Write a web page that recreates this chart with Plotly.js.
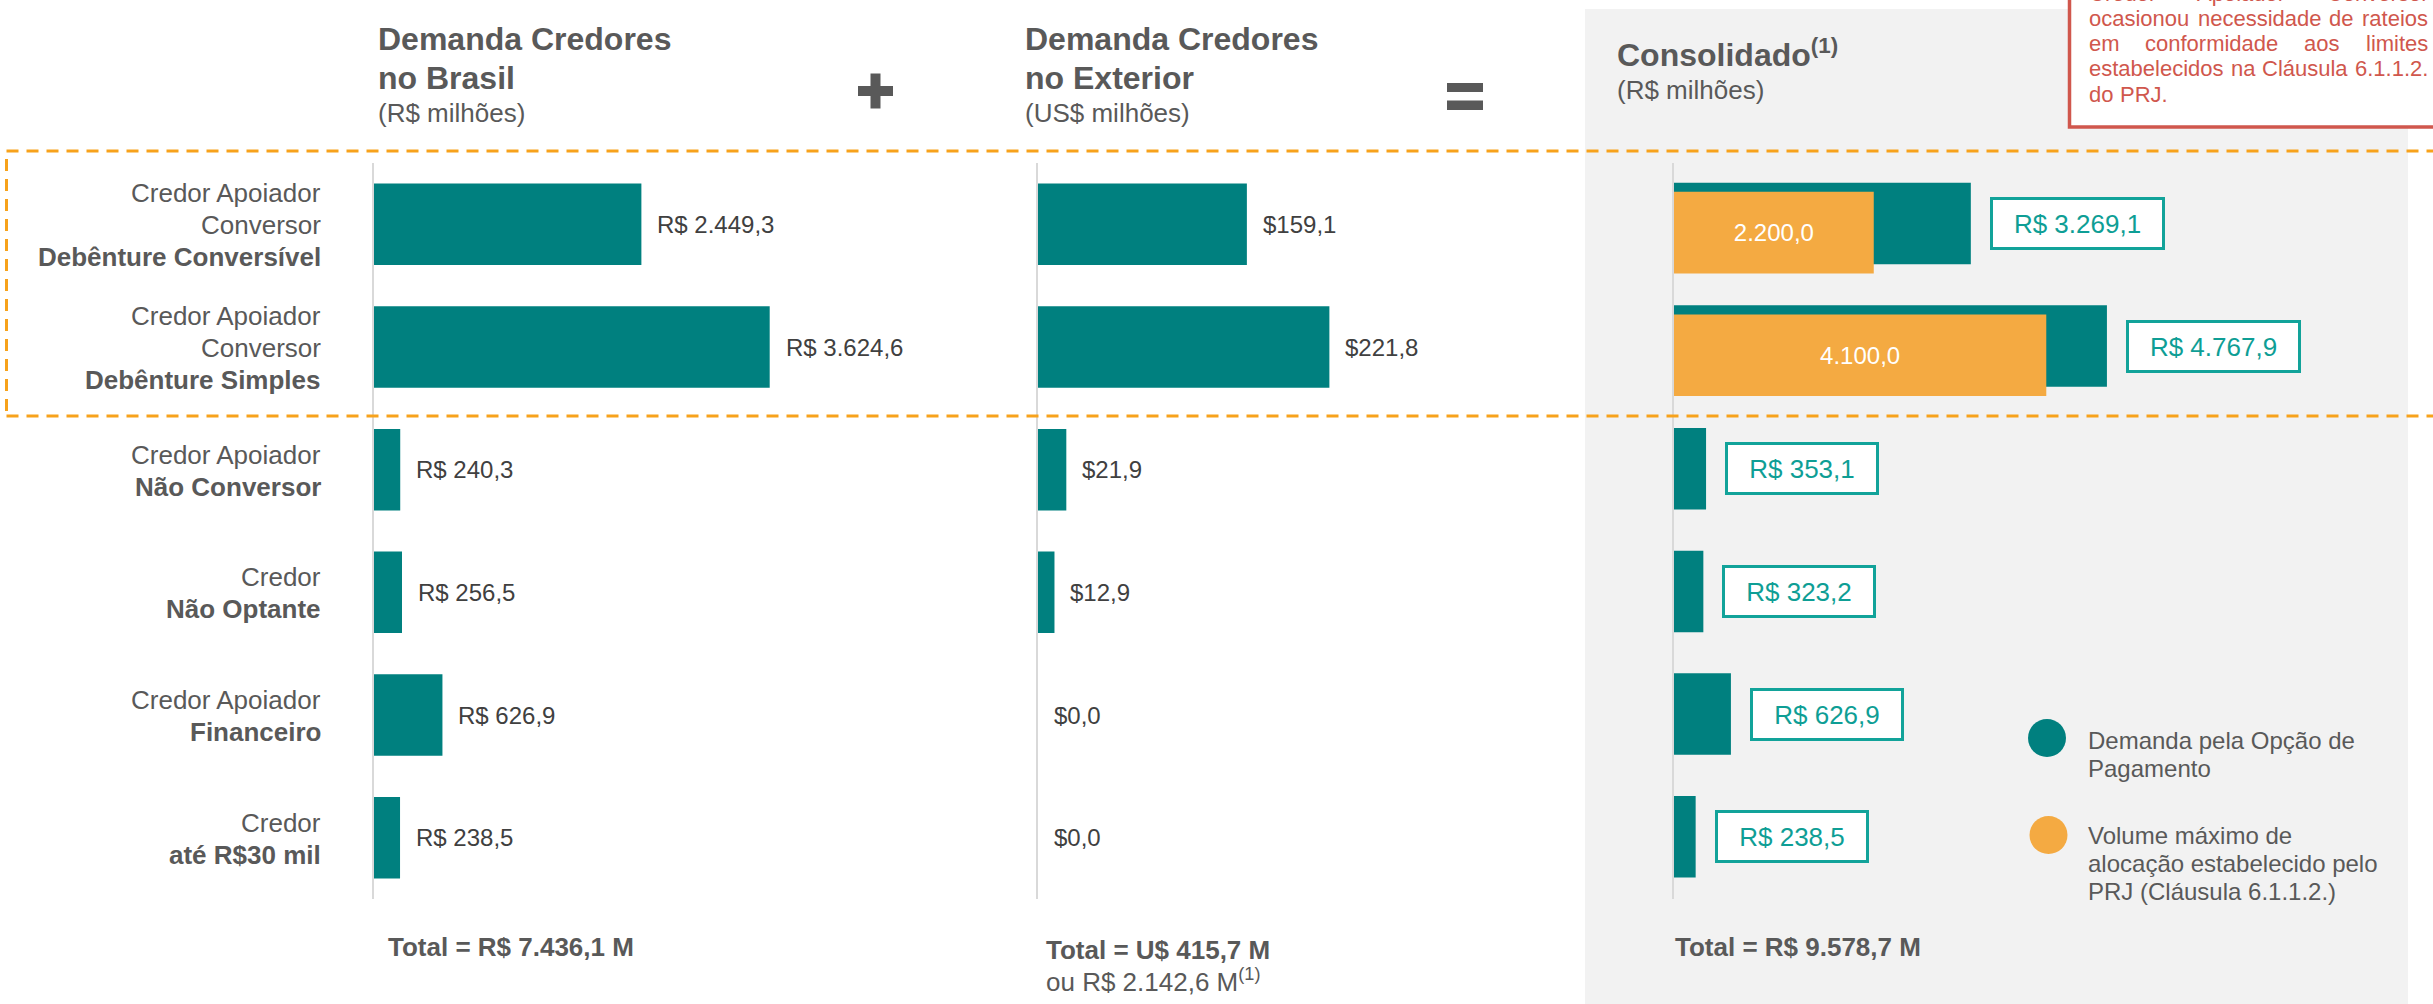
<!DOCTYPE html>
<html><head><meta charset="utf-8">
<script src="https://cdn.plot.ly/plotly-3.0.1.min.js"></script>
<style>html,body{margin:0;padding:0;background:#fff;}#chart{width:2433px;height:1004px;}</style>
</head><body><div id="chart"></div>
<script>
// ---------------- data ----------------
const categories = ['Debênture Conversível', 'Debênture Simples', 'Não Conversor', 'Não Optante', 'Financeiro', 'até R$30 mil'];
const categoryLabels = [
  ['Credor Apoiador', 'Conversor', '<b>Debênture Conversível</b>'],
  ['Credor Apoiador', 'Conversor', '<b>Debênture Simples</b>'],
  ['Credor Apoiador', '<b>Não Conversor</b>'],
  ['Credor', '<b>Não Optante</b>'],
  ['Credor Apoiador', '<b>Financeiro</b>'],
  ['Credor', '<b>até R$30 mil</b>']
];
const brasilValues = [2449.3, 3624.6, 240.3, 256.5, 626.9, 238.5];
const exteriorValues = [159.1, 221.8, 21.9, 12.9, 0.0, 0.0];
const consolidadoValues = [3269.1, 4767.9, 353.1, 323.2, 626.9, 238.5];
const limiteCategories = ['Debênture Conversível', 'Debênture Simples'];
const limiteValues = [2200.0, 4100.0];

const panelTitles = [
  ['<b>Demanda Credores</b>', '<b>no Brasil</b>', '(R$ milhões)'],
  ['<b>Demanda Credores</b>', '<b>no Exterior</b>', '(US$ milhões)'],
  ['<b>Consolidado<sup>(1)</sup></b>', '(R$ milhões)']
];
const totalsText = ['<b>Total = R$ 7.436,1 M</b>', '<b>Total = U$ 415,7 M</b>', 'ou R$ 2.142,6 M<sup>(1)</sup>', '<b>Total = R$ 9.578,7 M</b>'];
const legendTeal = ['Demanda pela Opção de', 'Pagamento'];
const legendOrange = ['Volume máximo de', 'alocação estabelecido pelo', 'PRJ (Cláusula 6.1.1.2.)'];
const noteLines = [
  ['Credor', 'Apoiador', 'Conversor'],
  ['ocasionou', 'necessidade', 'de', 'rateios'],
  ['em', 'conformidade', 'aos', 'limites'],
  ['estabelecidos', 'na', 'Cláusula', '6.1.1.2.'],
  ['do', 'PRJ.']
];

// ---------------- style ----------------
const W = 2433, H = 1004;
const FONT = 'Liberation Sans, Arial, sans-serif';
const TEAL = '#00807F', ORANGE = '#F4AA42', TXT = '#595959', VAL = '#404040';
const BOXC = '#12A39A', BOXT = '#0E9E95', RED = '#D0574D', DASH = '#F7A21B';
const px = x => x / W, py = y => 1 - y / H;

const cv = document.createElement('canvas').getContext('2d');
function measure(t, size, bold) {
  cv.font = (bold ? 'bold ' : '') + size + 'px "Liberation Sans", Arial, sans-serif';
  return cv.measureText(t).width;
}
function fmt(v) {
  let [i, d] = v.toFixed(1).split('.');
  i = i.replace(/\B(?=(\d{3})+(?!\d))/g, '.');
  return i + ',' + d;
}

const ann = [];
function line(text, x, baseline, size, color, xanchor) {
  ann.push({text, xref: 'paper', yref: 'paper', x: px(x), y: py(baseline + 0.212 * size),
    xanchor: xanchor || 'left', yanchor: 'bottom', showarrow: false, borderpad: 0,
    font: {family: FONT, size, color: color || TXT}});
}

// titles
line(panelTitles[0][0], 377, 51, 32); line(panelTitles[0][1], 377, 90, 32); line(panelTitles[0][2], 377, 123, 26);
line(panelTitles[1][0], 1024, 51, 32); line(panelTitles[1][1], 1024, 90.5, 32); line(panelTitles[1][2], 1024, 123, 26);
line(panelTitles[2][0], 1616, 67, 32); line(panelTitles[2][1], 1616, 100, 26);

// totals
line(totalsText[0], 387, 957, 26);
line(totalsText[1], 1045, 960, 26);
line(totalsText[2], 1045, 992, 26);
line(totalsText[3], 1673.5, 957, 26);

// legend
legendTeal.forEach((t, i) => line(t, 2087, 750 + i * 28, 24));
legendOrange.forEach((t, i) => line(t, 2087, 845 + i * 28, 24));

// note (justified)
const noteBase = [2.5, 27.2, 52.5, 77.8, 103.2];
const NL = 2088, NR = 2427, NS = 22;
noteLines.forEach((words, li) => {
  const widths = words.map(w => measure(w, NS, false));
  const last = li === noteLines.length - 1;
  const gap = last ? measure(' ', NS, false) : (NR - NL - widths.reduce((a, b) => a + b, 0)) / (words.length - 1);
  let x = NL;
  words.forEach((w, wi) => { line(w, x, noteBase[li], NS, RED); x += widths[wi] + gap; });
});

// category labels
categories.forEach((c, r) => {
  const lines = categoryLabels[r];
  lines.forEach((t, i) => {
    ann.push({text: t, xref: 'paper', yref: 'y', x: px(322), y: c, xanchor: 'right', yanchor: 'middle',
      yshift: -((i - (lines.length - 1) / 2) * 32 + 1), showarrow: false, borderpad: 0,
      font: {family: FONT, size: 26, color: TXT}});
  });
});

// value labels
categories.forEach((c, r) => {
  ann.push({text: 'R$ ' + fmt(brasilValues[r]), xref: 'x', yref: 'y', x: brasilValues[r], y: c,
    xanchor: 'left', yanchor: 'middle', xshift: 15, showarrow: false, borderpad: 0,
    font: {family: FONT, size: 24, color: VAL}});
  ann.push({text: '$' + fmt(exteriorValues[r]), xref: 'x2', yref: 'y2', x: exteriorValues[r], y: c,
    xanchor: 'left', yanchor: 'middle', xshift: 15, showarrow: false, borderpad: 0,
    font: {family: FONT, size: 24, color: VAL}});
  const bt = 'R$ ' + fmt(consolidadoValues[r]);
  ann.push({text: bt, xref: 'x3', yref: 'y3', x: consolidadoValues[r], y: c,
    xanchor: 'left', yanchor: 'middle', xshift: 19, yshift: 1, showarrow: false,
    width: Math.round(measure(bt, 26, false) + 42), height: 47, align: 'center', valign: 'middle',
    bgcolor: '#FFFFFF', bordercolor: BOXC, borderwidth: 3, borderpad: 0,
    font: {family: FONT, size: 26, color: BOXT}});
});

// ---------------- traces ----------------
const common = {type: 'bar', orientation: 'h', hoverinfo: 'skip', marker: {color: TEAL, line: {width: 0}}};
const traces = [
  Object.assign({}, common, {x: brasilValues, y: categories, xaxis: 'x', yaxis: 'y', width: 0.665}),
  Object.assign({}, common, {x: exteriorValues, y: categories, xaxis: 'x2', yaxis: 'y2', width: 0.665}),
  Object.assign({}, common, {x: consolidadoValues, y: categories, xaxis: 'x3', yaxis: 'y3', width: 0.665, offset: -0.34}),
  Object.assign({}, common, {x: limiteValues, y: limiteCategories, xaxis: 'x3', yaxis: 'y3', width: 0.665, offset: -0.265,
    marker: {color: ORANGE, line: {width: 0}},
    text: limiteValues.map(v => fmt(v)), textposition: 'inside', insidetextanchor: 'middle',
    textangle: 0, constraintext: 'none', textfont: {family: FONT, size: 24, color: '#FFFFFF'}})
];

// ---------------- shapes ----------------
const rectP = (x0, y0, x1, y1, extra) => Object.assign({type: 'rect', xref: 'paper', yref: 'paper',
  x0: px(x0), x1: px(x1), y0: py(y1), y1: py(y0)}, extra);
const shapes = [
  rectP(1585, 9, 2408, 1010, {fillcolor: '#F2F2F2', line: {width: 0}, layer: 'below'}),
  rectP(6.5, 151, 2450, 416, {fillcolor: 'rgba(0,0,0,0)', line: {color: DASH, width: 3, dash: '12px,8px'}, layer: 'above'}),
  rectP(2069.5, -10, 2450, 127, {fillcolor: '#FFFFFF', line: {color: RED, width: 3.5}, layer: 'above'}),
  // plus
  rectP(870.5, 73.5, 880.5, 108.5, {fillcolor: TXT, line: {width: 0}}),
  rectP(858, 86, 893, 96, {fillcolor: TXT, line: {width: 0}}),
  // equals
  rectP(1447, 83, 1483, 92, {fillcolor: TXT, line: {width: 0}}),
  rectP(1447, 100.5, 1483, 110, {fillcolor: TXT, line: {width: 0}}),
  // legend markers
  {type: 'circle', xref: 'paper', yref: 'paper', x0: px(2028), x1: px(2066), y0: py(757), y1: py(719), fillcolor: TEAL, line: {width: 0}},
  {type: 'circle', xref: 'paper', yref: 'paper', x0: px(2029.5), x1: px(2067.5), y0: py(854), y1: py(816), fillcolor: ORANGE, line: {width: 0}}
];

const yBase = {type: 'category', categoryorder: 'array', categoryarray: categories, range: [5.5, -0.5],
  domain: [py(899), py(163)], showline: true, linecolor: '#D9D9D9', linewidth: 2,
  showticklabels: false, showgrid: false, zeroline: false, ticks: '', fixedrange: true};
const xBase = {visible: false, showgrid: false, zeroline: false, fixedrange: true};

const layout = {
  width: W, height: H, margin: {l: 0, r: 0, t: 0, b: 0}, autosize: false,
  paper_bgcolor: '#FFFFFF', plot_bgcolor: 'rgba(0,0,0,0)', separators: ',.',
  showlegend: false, barmode: 'overlay', font: {family: FONT, color: TXT},
  xaxis: Object.assign({}, xBase, {domain: [px(374), px(374 + 0.10917 * 4000)], range: [0, 4000]}),
  xaxis2: Object.assign({}, xBase, {domain: [px(1037.5), px(1037.5 + 1.316 * 300)], range: [0, 300]}),
  xaxis3: Object.assign({}, xBase, {domain: [px(1674), px(1674 + 0.0908 * 6000)], range: [0, 6000]}),
  yaxis: Object.assign({}, yBase, {anchor: 'x'}),
  yaxis2: Object.assign({}, yBase, {anchor: 'x2', matches: 'y'}),
  yaxis3: Object.assign({}, yBase, {anchor: 'x3', matches: 'y'}),
  shapes, annotations: ann
};

Plotly.newPlot('chart', traces, layout, {displayModeBar: false, staticPlot: true});
</script></body></html>
